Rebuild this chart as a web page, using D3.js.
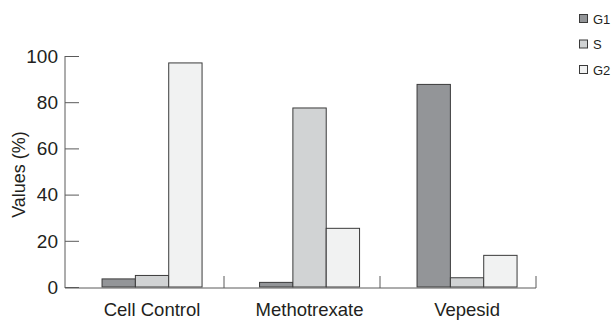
<!DOCTYPE html>
<html>
<head>
<meta charset="utf-8">
<script src="https://cdn.jsdelivr.net/npm/d3@7"></script>
<style>
  html, body { margin: 0; padding: 0; background: #fff; }
  svg { display: block; }
  text { font-family: "Liberation Sans", Arial, sans-serif; fill: #231f20; }
</style>
</head>
<body>
<svg id="chart" width="613" height="322"></svg>
<script>
const categories = ["Cell Control", "Methotrexate", "Vepesid"];
const seriesNames = ["G1", "S", "G2"];
const g1Values = [3.5, 2, 87.7];
const sValues = [5, 77.5, 4];
const g2Values = [97, 25.4, 13.7];
const yTicks = [0, 20, 40, 60, 80, 100];
const yLabel = "Values (%)";

const seriesValues = [g1Values, sValues, g2Values];
const colors = ["#939598", "#d1d3d4", "#f1f2f2"];

const svg = d3.select("#chart");

const y = d3.scaleLinear().domain([0, 100]).range([287, 56]);

// band scale for axis ticks (category boundaries)
const xAxisBand = d3.scaleBand().domain(categories).range([68, 536]).padding(0);
// band scale for bar groups
const x0 = d3.scaleBand().domain(categories).range([73.3, 545.8])
  .paddingInner(0.365).paddingOuter(0.1825);
const x1 = d3.scaleBand().domain(seriesNames).range([0, x0.bandwidth()]).padding(0);

const axisColor = "#5a5a5a";

// bars
categories.forEach((c, ci) => {
  const g = svg.append("g").attr("transform", `translate(${x0(c)},0)`);
  seriesNames.forEach((s, si) => {
    const v = seriesValues[si][ci];
    g.append("rect")
      .attr("x", x1(s))
      .attr("y", y(v))
      .attr("width", x1.bandwidth())
      .attr("height", y(0) - y(v))
      .attr("fill", colors[si])
      .attr("stroke", "#3a3a3a")
      .attr("stroke-width", 1);
  });
});

// y axis
const yAxis = d3.axisRight(y).tickValues(yTicks).tickSize(14).tickFormat("");
const yg = svg.append("g").attr("transform", "translate(65,0)").call(yAxis);
yg.select(".domain").remove();
yg.selectAll("line").attr("stroke", axisColor);
svg.append("line").attr("x1", 65).attr("x2", 65).attr("y1", y(100)).attr("y2", y(0) + 1)
  .attr("stroke", axisColor);
// y tick labels
svg.selectAll(".ylab").data(yTicks).enter().append("text")
  .attr("x", 58).attr("y", d => y(d)).attr("dy", "0.36em")
  .attr("text-anchor", "end").attr("font-size", 19)
  .text(d => d);

// x axis
svg.append("line").attr("x1", 65).attr("x2", 536).attr("y1", y(0) + 1).attr("y2", y(0) + 1)
  .attr("stroke", axisColor);
svg.selectAll(".xtick").data(categories).enter().append("line")
  .attr("x1", d => xAxisBand(d) + xAxisBand.bandwidth())
  .attr("x2", d => xAxisBand(d) + xAxisBand.bandwidth())
  .attr("y1", y(0) + 1).attr("y2", y(0) - 11)
  .attr("stroke", axisColor);
svg.selectAll(".xlab").data(categories).enter().append("text")
  .attr("x", d => x0(d) + x0.bandwidth() / 2)
  .attr("y", 316)
  .attr("text-anchor", "middle").attr("font-size", 18.5)
  .text(d => d);

// y label
svg.append("text")
  .attr("transform", `translate(25,${(y(0) + y(100)) / 2 + 3}) rotate(-90)`)
  .attr("text-anchor", "middle").attr("font-size", 18)
  .text(yLabel);

// legend
const leg = svg.append("g");
seriesNames.forEach((s, i) => {
  const cy = 19 + i * 25.5;
  leg.append("rect").attr("x", 579.5).attr("y", cy - 4.5).attr("width", 8).attr("height", 8)
    .attr("fill", colors[i]).attr("stroke", "#3a3a3a").attr("stroke-width", 1);
  leg.append("text").attr("x", 593).attr("y", cy).attr("dy", "0.36em")
    .attr("font-size", 13).text(s);
});
</script>
</body>
</html>
